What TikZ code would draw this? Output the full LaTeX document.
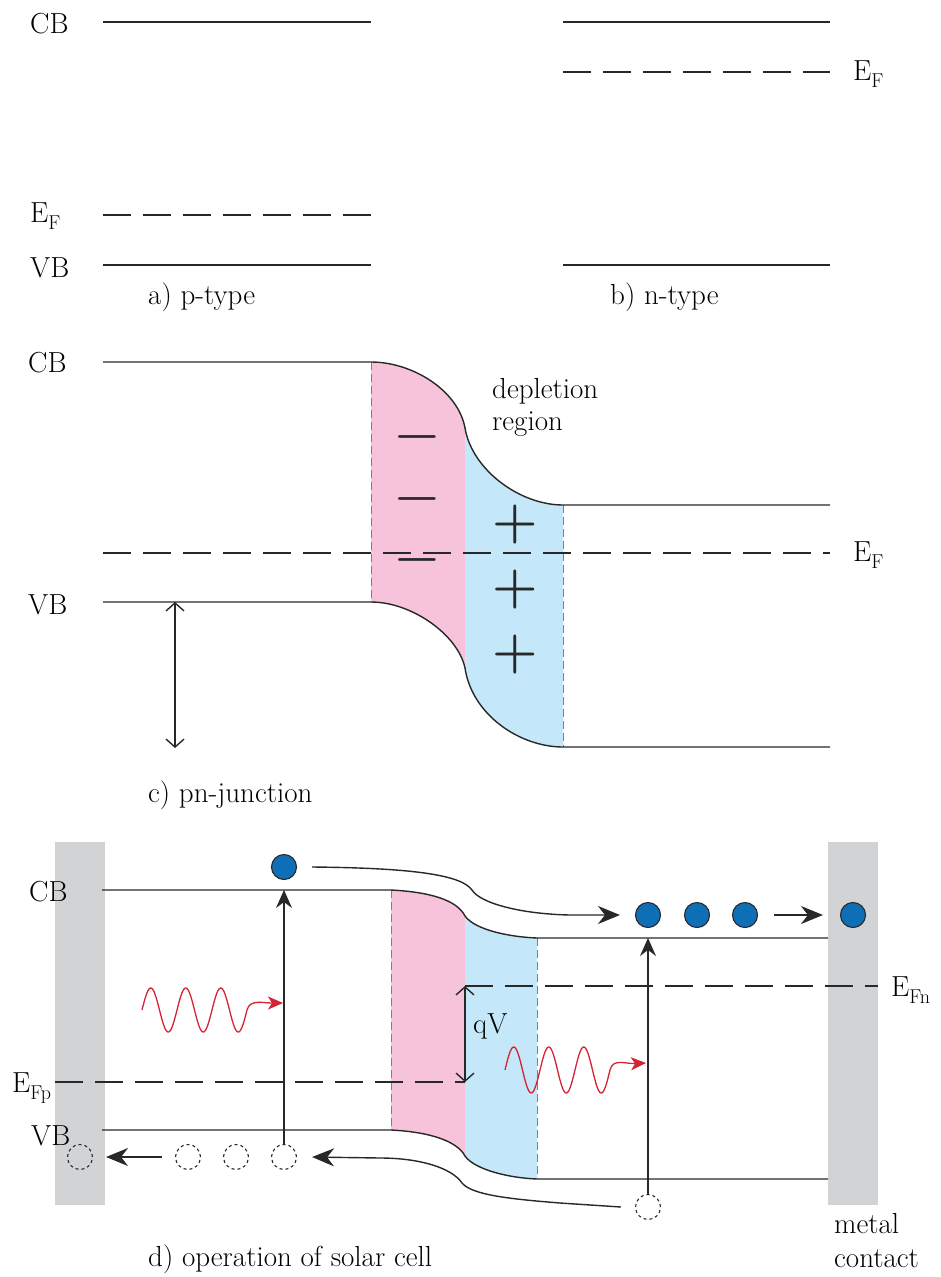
\documentclass[tikz,border=0pt]{standalone}
\usepackage{fontspec}
\usetikzlibrary{arrows.meta}
\definecolor{pinkreg}{RGB}{246,195,218}
\definecolor{bluereg}{RGB}{196,232,249}
\definecolor{metalgray}{RGB}{210,211,213}
\definecolor{elec}{RGB}{14,110,182}
\definecolor{wavered}{RGB}{212,36,52}
\definecolor{ink}{RGB}{40,40,40}
\newcommand\lowsub[1]{\raisebox{-7pt}{\fontsize{20}{20}\selectfont #1}}
\begin{document}
\begin{tikzpicture}[x=1pt,y=-1pt,
  band/.style={line width=1.4pt, draw=ink},
  fermi/.style={line width=1.4pt, draw=ink, dash pattern=on 28pt off 12pt},
  edgedash/.style={line width=1pt, draw=gray, dash pattern=on 8pt off 4pt},
  lbl/.style={font=\fontsize{29}{33}\selectfont, inner sep=0pt, text=black},
  charge/.style={inner sep=0pt, text=ink},
  electron/.style={circle, draw=ink, fill=elec, minimum size=25pt, inner sep=0pt, line width=1.1pt},
  hole/.style={circle, draw=ink, minimum size=25pt, inner sep=0pt, line width=1.1pt, dash pattern=on 3pt off 3pt},
  tipped/.style={-{Stealth[length=22pt,width=18pt,inset=7pt]}},
  uptip/.style={-{Stealth[length=18pt,width=16pt,inset=6pt]}},
  dbl/.style={{Straight Barb[length=8pt,width=18pt]}-{Straight Barb[length=8pt,width=18pt]}},
  photon/.style={line width=1.3pt, draw=wavered, -{Stealth[length=15pt,width=13pt,inset=4pt]}}
]
\fill[white] (0,0) rectangle (941,1277);
\useasboundingbox (0,0) rectangle (941,1277);

% ---------- a) p-type and b) n-type ----------
\draw[band] (103,22) -- (371,22);
\draw[band] (563,22) -- (830,22);
\draw[fermi] (563,72) -- (830,72);
\draw[fermi] (103,215) -- (371,215);
\draw[band] (103,265) -- (371,265);
\draw[band] (563,265) -- (830,265);
\node[lbl, anchor=base west] (cbA) at (30,33) {CB};
\node[lbl, anchor=base west] (efA) at (30,222) {E\lowsub{F}};
\node[lbl, anchor=base west] (vbA) at (30,277) {VB};
\node[lbl, anchor=base west] (efB) at (853,80) {E\lowsub{F}};
\node[lbl, anchor=base west] (capA) at (148,304) {a) p-type};
\node[lbl, anchor=base west] (capB) at (610,304) {b) n-type};

% ---------- c) pn-junction ----------
\fill[pinkreg] (371,362) .. controls (412,362) and (458,390) .. (465,428)
  -- (465,668) .. controls (458,635) and (412,602) .. (371,602) -- cycle;
\fill[bluereg] (465,428) .. controls (472,470) and (520,505) .. (563,505)
  -- (563,747) .. controls (520,747) and (472,715) .. (465,668) -- cycle;
\draw[edgedash] (371,362) -- (371,602);
\draw[edgedash] (563,505) -- (563,747);
\draw[band] (103,362) -- (371,362) .. controls (412,362) and (458,390) .. (465,428)
  .. controls (472,470) and (520,505) .. (563,505) -- (830,505);
\draw[band] (103,602) -- (371,602) .. controls (412,602) and (458,635) .. (465,668)
  .. controls (472,715) and (520,747) .. (563,747) -- (830,747);
\draw[fermi] (103,553) -- (830,553);
\node[charge, font=\fontsize{50}{50}\selectfont\bfseries] (m1) at (417,443) {−};
\node[charge, font=\fontsize{50}{50}\selectfont\bfseries] (m2) at (417,505) {−};
\node[charge, font=\fontsize{50}{50}\selectfont\bfseries] (m3) at (417,566) {−};
\node[charge, font=\fontsize{52}{52}\selectfont\bfseries] (p1) at (515,525) {+};
\node[charge, font=\fontsize{52}{52}\selectfont\bfseries] (p2) at (515,590) {+};
\node[charge, font=\fontsize{52}{52}\selectfont\bfseries] (p3) at (515,655) {+};
\node[lbl, anchor=base west] (dep1) at (492,398) {depletion};
\node[lbl, anchor=base west] (dep2) at (492,430) {region};
\node[lbl, anchor=base west] (cbC) at (28,372) {CB};
\node[lbl, anchor=base west] (vbC) at (28,614) {VB};
\node[lbl, anchor=base west] (efC) at (853,561) {E\lowsub{F}};
\coordinate (gapTop) at (175,602);
\coordinate (gapBot) at (175,748);
\draw[band, dbl] (gapTop) -- (gapBot);
\node[lbl, anchor=base west] (capC) at (148,802) {c) pn-junction};

% ---------- d) operation of solar cell ----------
\fill[metalgray] (55,842) rectangle (105,1205);
\fill[metalgray] (828,842) rectangle (878,1205);
\fill[pinkreg] (391,890) .. controls (430,892) and (457,900) .. (465,916)
  -- (465,1156) .. controls (457,1141) and (430,1132) .. (391,1130) -- cycle;
\fill[bluereg] (465,916) .. controls (475,930) and (510,937) .. (537,938)
  -- (537,1179) .. controls (510,1178) and (475,1170) .. (465,1156) -- cycle;
\draw[edgedash] (391,890) -- (391,1130);
\draw[edgedash] (537,938) -- (537,1179);
\draw[band] (102,890) -- (391,890) .. controls (430,892) and (457,900) .. (465,916)
  .. controls (475,930) and (510,937) .. (537,938) -- (828,938);
\draw[band] (102,1130) -- (391,1130) .. controls (430,1132) and (457,1141) .. (465,1156)
  .. controls (475,1170) and (510,1178) .. (537,1179) -- (828,1179);
\draw[fermi] (55,1082) -- (465,1082);
\draw[fermi] (465,986) -- (878,986);
\coordinate (qvTop) at (465,986);
\coordinate (qvBot) at (465,1082);
\draw[band, dbl] (qvTop) -- (qvBot);
\node[lbl, anchor=base west] (qv) at (473,1033) {qV};

\node[lbl, anchor=base west] (cbD) at (29,901) {CB};
\node[lbl, anchor=base west] (vbD) at (31,1145) {VB};
\node[lbl, anchor=base west] (efp) at (12,1092) {E\lowsub{Fp}};
\node[lbl, anchor=base west] (efn) at (891,996) {E\lowsub{Fn}};

% carriers
\node[electron] (e1) at (284,867) {};
\node[electron] (e2) at (648,915) {};
\node[electron] (e3) at (697,915) {};
\node[electron] (e4) at (745,915) {};
\node[electron] (e5) at (853,915) {};
\node[hole] (h1) at (80,1157) {};
\node[hole] (h2) at (188,1157) {};
\node[hole] (h3) at (236,1157) {};
\node[hole] (h4) at (284,1157) {};
\node[hole] (h5) at (648,1207) {};
\coordinate (cbL) at (284,890);
\coordinate (cbR) at (648,938);

% excitation arrows
\draw[band, uptip] (h4.north) -- (cbL);
\draw[band, uptip] (h5.north) -- (cbR);

% photons
\draw[photon] plot[domain=142:247, samples=120] (\x,{1010-22*sin((\x-142)*10.285714)})
  .. controls (250,999) and (262,1003) .. (283,1003);
\draw[photon] plot[domain=505:610, samples=120] (\x,{1070-23*sin((\x-505)*10.285714)})
  .. controls (613,1058) and (625,1064) .. (646,1063);

% carrier drift arrows
\draw[band, tipped] ([xshift=15pt]e1.east) .. controls (420,868) and (462,876) .. (472,890)
  .. controls (480,903) and (520,914) .. (570,915) -- ([xshift=-15pt]e2.west);
\draw[band, tipped] ([xshift=16pt]e4.east) -- ([xshift=-17pt]e5.west);
\draw[band, tipped] ([xshift=-14pt]h5.west) -- (560,1203) .. controls (510,1199) and (472,1195) .. (462,1183)
  .. controls (452,1168) and (420,1158) .. (380,1158) -- ([xshift=15pt]h4.east);
\draw[band, tipped] ([xshift=-13pt]h2.west) -- ([xshift=13pt]h1.east);

\node[lbl, anchor=base west] (capD) at (148,1266) {d) operation of solar cell};
\node[lbl, anchor=base west] (metal1) at (834,1233) {metal};
\node[lbl, anchor=base west] (metal2) at (834,1267) {contact};
\end{tikzpicture}
\end{document}
